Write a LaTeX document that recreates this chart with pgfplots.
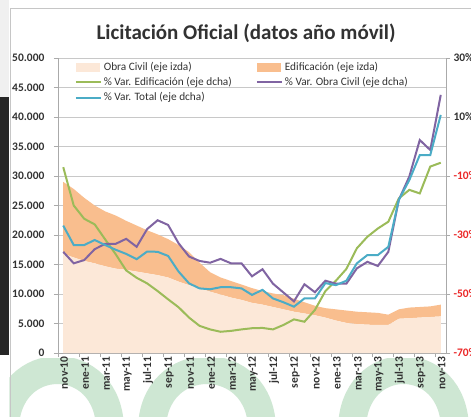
\documentclass[border=0pt]{standalone}
\usepackage{pgfplots}
\pgfplotsset{compat=1.18}
\usepackage{pgfplotstable}
\usepackage{fontspec}
\setmainfont{Carlito}
\definecolor{peach}{RGB}{252,232,216}
\definecolor{orng}{RGB}{249,190,142}
\definecolor{vgreen}{RGB}{155,187,89}
\definecolor{vpurple}{RGB}{128,100,162}
\definecolor{vblue}{RGB}{75,172,198}
\definecolor{gridc}{RGB}{200,200,200}
\definecolor{axc}{RGB}{170,170,170}
\definecolor{txt}{RGB}{50,50,50}
\definecolor{negred}{RGB}{235,40,40}
\definecolor{wm}{RGB}{206,231,211}

\pgfplotstableread{
i oc ed
0 16800 12200
1 16200 11600
2 15600 10700
3 15200 9800
4 14700 9300
5 14300 9000
6 14100 8300
7 13800 7800
8 13500 7300
9 13200 6900
10 12800 6500
11 12100 6200
12 11500 5600
13 11000 4300
14 10400 3300
15 9900 2900
16 9400 2800
17 9000 2600
18 8500 2500
19 8200 2300
20 7800 2300
21 7400 2400
22 7000 2200
23 6700 1900
24 6400 1600
25 6000 1600
26 5500 1900
27 5100 2100
28 4900 2100
29 4800 2100
30 4750 2050
31 4750 1750
32 5800 1600
33 5900 1800
34 6000 1800
35 6100 1800
36 6200 2000
}\areas

\pgfplotstableread{
i ved voc vtot
0 -7 -35.7 -26.8
1 -20 -39.6 -33.4
2 -24.5 -38.5 -33.4
3 -26.4 -34.8 -31.7
4 -31.5 -33 -33.4
5 -36.5 -33 -35
6 -42 -31.3 -36.4
7 -44.5 -34 -38.2
8 -46.4 -28 -35.6
9 -49 -25 -35.7
10 -51.8 -26.6 -37.1
11 -54.5 -32.8 -42.4
12 -58 -37.3 -46.4
13 -60.8 -38.8 -48.1
14 -62 -39.4 -48.4
15 -62.8 -38.1 -47.7
16 -62.5 -39.6 -47.7
17 -62 -39.6 -48.1
18 -61.6 -44 -50.3
19 -61.5 -41.6 -48.6
20 -62 -46.5 -51.5
21 -60.5 -49.5 -52.8
22 -58.6 -52.5 -54.3
23 -59.4 -46.7 -51.5
24 -55.4 -49.4 -51.5
25 -49 -45.5 -46.3
26 -45.5 -46.5 -47
27 -41.5 -46.5 -45.5
28 -34.5 -41.3 -39.6
29 -30.6 -39.1 -36.8
30 -27.8 -40.5 -36.8
31 -25.5 -35.7 -34
32 -17.6 -18.1 -18.1
33 -14.7 -10.2 -11.4
34 -15.9 2.2 -2.9
35 -6.8 -1.2 -2.9
36 -5.5 17.5 10.7
}\lines

\begin{document}
\begin{tikzpicture}
\useasboundingbox (-58pt,-63pt) rectangle (413pt,353pt);
\clip (-58pt,-63pt) rectangle (413pt,353pt);
\fill[white] (-58pt,-63pt) rectangle (413pt,353pt);
% frame and surroundings
\fill[gray!12] (-58pt,256pt) rectangle (-49pt,353pt);
\fill[black!85] (-58pt,-2pt) rectangle (-49pt,256pt);
% watermark arches below the plot
\begin{scope}
\clip (-48.5pt,-63pt) rectangle (413pt,-5pt);
\draw[wm, line width=28pt] (-53pt,-77pt) .. controls (-53pt,3pt) and (52pt,3pt) .. (52pt,-77pt);
\draw[wm, line width=28pt] (94pt,-77pt) .. controls (94pt,3pt) and (204pt,3pt) .. (204pt,-77pt);
\draw[wm, line width=28pt] (294pt,-77pt) .. controls (294pt,3pt) and (397pt,3pt) .. (397pt,-77pt);
\end{scope}
\draw[gray!45] (-47.5pt,-70pt) -- (-47.5pt,344.5pt) -- (430pt,344.5pt);
\node[font=\fontsize{21}{24}\selectfont\bfseries, text=txt] at (188pt,320pt) {Licitación Oficial (datos año móvil)};

\begin{axis}[
  name=ax1,
  scale only axis, width=388pt, height=295pt,
  xmin=-0.5, xmax=36.5, ymin=0, ymax=50000,
  axis x line*=bottom, axis y line*=left,
  axis line style={axc},
  xtick={-0.5,1.5,...,36.5}, xticklabels={},
  extra x ticks={0,2,...,36},
  extra x tick labels={nov-10,ene-11,mar-11,may-11,jul-11,sep-11,nov-11,ene-12,mar-12,may-12,jul-12,sep-12,nov-12,ene-13,mar-13,may-13,jul-13,sep-13,nov-13},
  extra x tick style={major tick length=0pt, grid=none},
  xticklabel style={rotate=90, anchor=east, yshift=-1pt},
  scaled y ticks=false,
  ytick={0,5000,...,50000},
  yticklabels={0,5.000,10.000,15.000,20.000,25.000,30.000,35.000,40.000,45.000,50.000},
  ymajorgrids, grid style={gridc, line width=0.8pt},
  tick align=outside, major tick length=4pt,
  tick style={axc},
  ticklabel style={font=\fontsize{11.5}{12}\selectfont\bfseries, text=txt},
  yticklabel style={xshift=-6pt},
  stack plots=y,
  clip=false,
]
\addplot[fill=peach, draw=none] table[x=i, y=oc] {\areas} \closedcycle;
\addplot[fill=orng, draw=none] table[x=i, y=ed] {\areas} \closedcycle;
\end{axis}

\begin{axis}[
  scale only axis, width=388pt, height=295pt,
  xmin=-0.5, xmax=36.5, ymin=-70, ymax=30,
  axis x line=none, axis y line*=right,
  axis line style={axc},
  ytick={-70,-50,...,30},
  yticklabels={\textcolor{negred}{-70\%},\textcolor{negred}{-50\%},\textcolor{negred}{-30\%},\textcolor{negred}{-10\%},10\%,30\%},
  tick align=outside, major tick length=4pt,
  tick style={axc},
  ticklabel style={font=\fontsize{11.5}{12}\selectfont\bfseries, text=txt},
  legend columns=2,
  legend cell align=left,
  legend style={at={(0.035,1.0)}, anchor=north west, draw=none, fill=none,
    font=\fontsize{11.3}{12}\selectfont, text=txt, row sep=1.5pt,
    /tikz/every even column/.append style={column sep=22pt}},
  legend image code/.code={\draw[#1] (0pt,0pt) -- (25pt,0pt);},
]
\addlegendimage{legend image code/.code={\fill[peach] (0pt,-4pt) rectangle (23pt,4pt);}}
\addlegendentry{Obra Civil (eje izda)}
\addlegendimage{legend image code/.code={\fill[orng] (0pt,-4pt) rectangle (23pt,4pt);}}
\addlegendentry{Edificación (eje izda)}
\addplot[vgreen, line width=2pt] table[x=i, y=ved] {\lines};
\addlegendentry{\% Var. Edificación (eje dcha)}
\addplot[vpurple, line width=2pt] table[x=i, y=voc] {\lines};
\addlegendentry{\% Var. Obra Civil (eje dcha)}
\addplot[vblue, line width=2pt] table[x=i, y=vtot] {\lines};
\addlegendentry{\% Var. Total (eje dcha)}
\end{axis}
\end{tikzpicture}
\end{document}
